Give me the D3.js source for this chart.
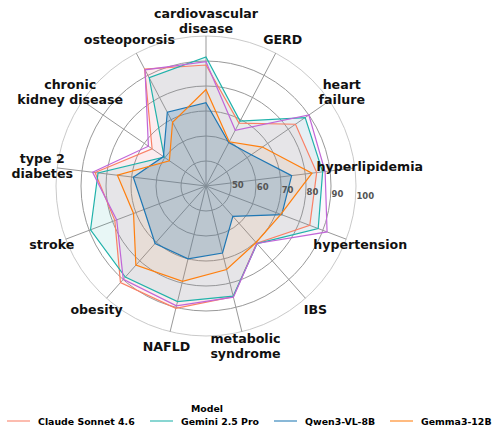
<!DOCTYPE html>
<html>
<head>
<meta charset="utf-8">
<script src="https://cdn.jsdelivr.net/npm/d3@7"></script>
<style>
  body { margin: 0; background: #fff; }
  text { font-family: "DejaVu Sans", sans-serif; }
</style>
</head>
<body>
<div id="chart"></div>
<script>
// categories, clockwise from the top
const categories = ["cardiovascular\ndisease", "GERD", "heart\nfailure", "hyperlipidemia",
  "hypertension", "IBS", "metabolic\nsyndrome", "NAFLD", "obesity", "stroke",
  "type 2\ndiabetes", "chronic\nkidney disease", "osteoporosis"]

const ticks = [50, 60, 70, 80, 90, 100]

const models = ["Claude Sonnet 4.6", "Gemini 2.5 Pro", "Qwen3-VL-8B", "Gemma3-12B", "unlisted"]
const inLegend = [true, true, true, true, false]
const colours = ["#fa8066", "#20b2aa", "#1f77b4", "#ff7f0e", "#c066d8"]
const fillAlpha = [0.09, 0.1, 0.22, 0.08, 0.05]

const claude = [88.4, 68.4, 83.5, 84.6, 84.4, 70.6, 85.6, 90.4, 91.6, 79.0, 84.7, 66.2, 92.8]
const gemini = [91.6, 69.3, 88.2, 87.0, 88.0, 70.8, 85.4, 87.6, 88.7, 89.4, 83.5, 60.3, 88.9]
const qwen   = [73.3, 59.6, 62.0, 74.5, 72.4, 56.2, 67.6, 70.0, 70.7, 66.5, 69.3, 60.7, 73.3]
const gemma  = [78.6, 60.0, 67.4, 82.7, 72.0, 70.2, 74.4, 79.3, 82.3, 71.0, 75.7, 57.8, 68.8]
const other  = [89.7, 65.2, 90.0, 88.0, 91.8, 70.7, 85.8, 89.4, 89.9, 78.2, 85.7, 68.0, 92.5]

const series = [claude, gemini, qwen, gemma, other]
// qwen's fill goes on top so the inner area reads blue
const fillOrder = [0, 1, 3, 4, 2]

const width = 499, height = 432
const cx = 206, cy = 186
const outer = 150

const svg = d3.select('#chart').append('svg')
    .attr('width', width)
    .attr('height', height)

const g = svg.append('g').attr('transform', `translate(${cx},${cy})`)

const r = d3.scaleLinear().domain([40, 100]).range([0, outer])
const angle = d3.scaleLinear().domain([0, categories.length]).range([0, 2 * Math.PI])

// grid circles
g.selectAll('circle.grid')
    .data(ticks)
    .enter().append('circle')
    .attr('class', 'grid')
    .attr('r', d => r(d))
    .attr('fill', 'none')
    .attr('stroke', d => d === 100 ? '#bbb' : '#999')
    .attr('stroke-width', d => d === 100 ? 0.8 : 1)

// spokes
g.selectAll('line.spoke')
    .data(categories)
    .enter().append('line')
    .attr('x1', 0).attr('y1', 0)
    .attr('x2', (d, i) => outer * Math.sin(angle(i)))
    .attr('y2', (d, i) => -outer * Math.cos(angle(i)))
    .attr('stroke', '#999')
    .attr('stroke-width', 1)

const radar = d3.lineRadial()
    .angle((d, i) => angle(i))
    .radius(d => r(d))
    .curve(d3.curveLinearClosed)

g.selectAll('path.fill')
    .data(fillOrder)
    .enter().append('path')
    .attr('d', k => radar(series[k]))
    .attr('fill', k => colours[k])
    .attr('fill-opacity', k => fillAlpha[k])
    .attr('stroke', 'none')

g.selectAll('path.line')
    .data(series)
    .enter().append('path')
    .attr('d', radar)
    .attr('fill', 'none')
    .attr('stroke', (d, i) => colours[i])
    .attr('stroke-width', 1.2)

// radial tick labels, a little below the horizontal
const tickAng = 5 * Math.PI / 180
g.selectAll('text.tick')
    .data(ticks)
    .enter().append('text')
    .attr('x', d => r(d) * Math.cos(tickAng) + 1)
    .attr('y', d => r(d) * Math.sin(tickAng))
    .attr('font-size', 8.5)
    .attr('font-weight', 'bold')
    .attr('fill', '#555')
    .text(d => d)

// category labels
const labelR = 165
const lineH = 14.5
categories.forEach((c, i) => {
    const lines = c.split('\n')
    const x = labelR * Math.sin(angle(i))
    const y = -labelR * Math.cos(angle(i))
    const t = g.append('text')
        .attr('text-anchor', 'middle')
        .attr('font-size', 12.6)
        .attr('font-weight', 'bold')
        .attr('fill', '#111')
    lines.forEach((l, j) => {
        t.append('tspan')
            .attr('x', x)
            .attr('y', y + (j - (lines.length - 1) / 2) * lineH)
            .attr('dy', '0.35em')
            .text(l)
    })
})

// legend
const legend = svg.append('g')
svg.append('text')
    .attr('x', 207).attr('y', 412)
    .attr('text-anchor', 'middle')
    .attr('font-size', 9.4)
    .attr('font-weight', 'bold')
    .text('Model')

const legX = [7, 150, 274, 390]
models.filter((m, i) => inLegend[i]).forEach((m, i) => {
    legend.append('line')
        .attr('x1', legX[i]).attr('x2', legX[i] + 23)
        .attr('y1', 421).attr('y2', 421)
        .attr('stroke', colours[i])
        .attr('stroke-opacity', 0.7)
        .attr('stroke-width', 1.5)
    legend.append('text')
        .attr('x', legX[i] + 31).attr('y', 424.5)
        .attr('font-size', 9.4)
        .attr('font-weight', 'bold')
        .text(m)
})
</script>
</body>
</html>
